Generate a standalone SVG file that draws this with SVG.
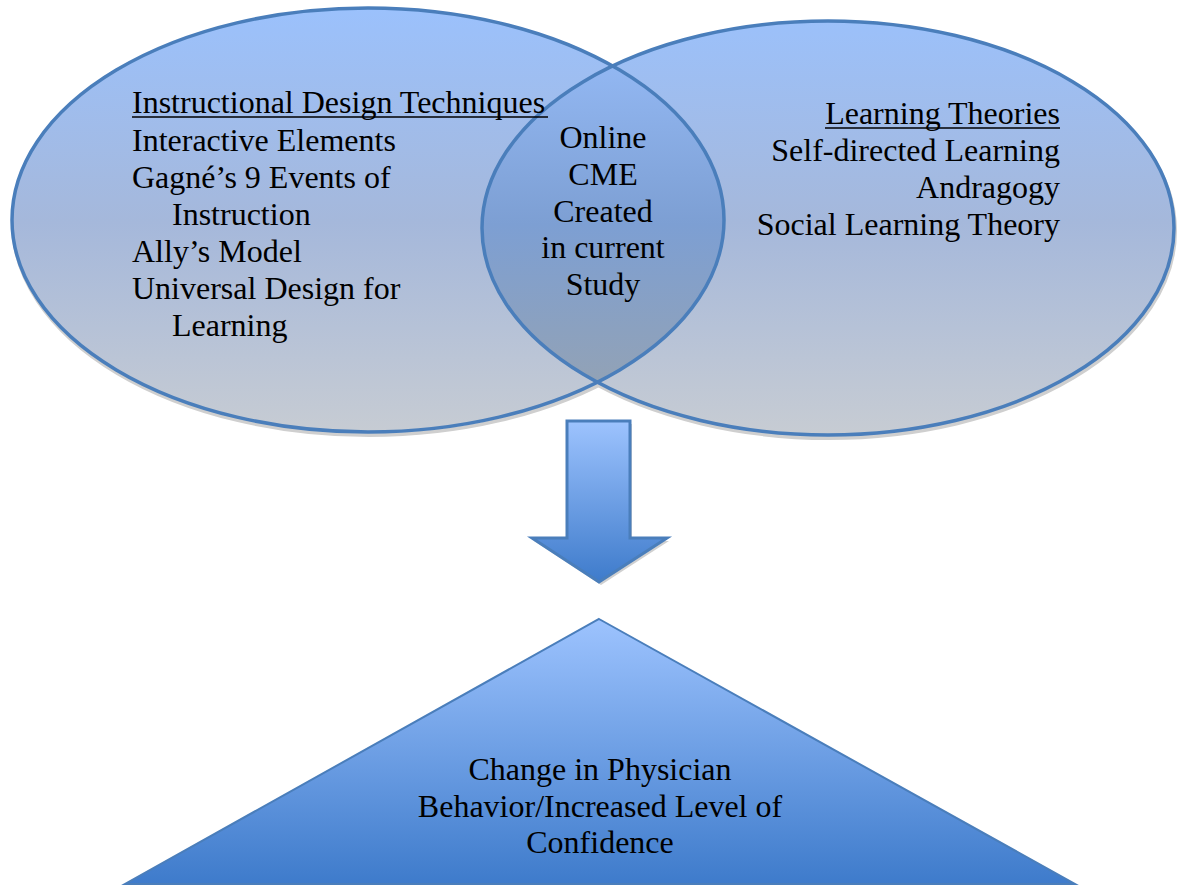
<svg xmlns="http://www.w3.org/2000/svg" width="1178" height="886" viewBox="0 0 1178 886">
  <style>
    .t { font-family: "Liberation Serif", "Times New Roman", serif; font-size: 32px; fill: #000; }
    .mid { text-anchor: middle; }
    .end { text-anchor: end; }
    .edge { fill: none; stroke: #4a7ebb; stroke-width: 3.5; }
    .shadow { fill: none; stroke: #cfcfcf; stroke-width: 4; }
  </style>
  <defs>
    <linearGradient id="gEll" x1="0" y1="8" x2="0" y2="435" gradientUnits="userSpaceOnUse">
      <stop offset="0" stop-color="#9bc1fc"/>
      <stop offset="0.5" stop-color="#a5b8db"/>
      <stop offset="1" stop-color="#c7ccd3"/>
    </linearGradient>
    <linearGradient id="gLens" x1="0" y1="66" x2="0" y2="382" gradientUnits="userSpaceOnUse">
      <stop offset="0" stop-color="#92b7f2"/>
      <stop offset="0.5" stop-color="#7d9fd3"/>
      <stop offset="1" stop-color="#92a2b6"/>
    </linearGradient>
    <linearGradient id="gBlue" x1="0" y1="0" x2="0" y2="1">
      <stop offset="0" stop-color="#9dc3fe"/>
      <stop offset="1" stop-color="#3e7bcb"/>
    </linearGradient>
    <clipPath id="clipLeft">
      <ellipse cx="368" cy="220" rx="356" ry="212"/>
    </clipPath>
  </defs>

  <g id="shadows">
    <ellipse class="shadow" cx="369" cy="223" rx="356" ry="212"/>
    <ellipse class="shadow" cx="829" cy="231" rx="346" ry="207"/>
  </g>

  <g id="node-instructional-design">
    <ellipse cx="368" cy="220" rx="356" ry="212" fill="url(#gEll)"/>
  </g>

  <g id="node-learning-theories">
    <ellipse cx="828" cy="228" rx="346" ry="207" fill="url(#gEll)"/>
  </g>

  <g id="node-online-cme">
    <ellipse cx="828" cy="228" rx="346" ry="207" fill="url(#gLens)" clip-path="url(#clipLeft)"/>
  </g>

  <g id="outlines">
    <ellipse class="edge" cx="368" cy="220" rx="356" ry="212"/>
    <ellipse class="edge" cx="828" cy="228" rx="346" ry="207"/>
  </g>

  <g id="labels-left">
    <text class="t" x="132" y="113">Instructional Design Techniques</text>
    <line x1="132" y1="117" x2="548" y2="117" stroke="#000" stroke-width="1.6"/>
    <text class="t" x="132" y="151">Interactive Elements</text>
    <text class="t" x="132" y="188">Gagné’s 9 Events of</text>
    <text class="t" x="172" y="225">Instruction</text>
    <text class="t" x="132" y="262">Ally’s Model</text>
    <text class="t" x="132" y="299">Universal Design for</text>
    <text class="t" x="172" y="336">Learning</text>
  </g>

  <g id="labels-right">
    <text class="t end" x="1060" y="124">Learning Theories</text>
    <line x1="825" y1="128" x2="1060" y2="128" stroke="#000" stroke-width="1.6"/>
    <text class="t end" x="1060" y="161">Self-directed Learning</text>
    <text class="t end" x="1060" y="198">Andragogy</text>
    <text class="t end" x="1060" y="235">Social Learning Theory</text>
  </g>

  <g id="labels-center">
    <text class="t mid" x="603" y="148">Online</text>
    <text class="t mid" x="603" y="185">CME</text>
    <text class="t mid" x="603" y="222">Created</text>
    <text class="t mid" x="603" y="258">in current</text>
    <text class="t mid" x="603" y="295">Study</text>
  </g>

  <g id="connectors">
    <path d="M569,424 H632 V541 H669 L601,585 L534,541 H569 Z" fill="#d0d0d0"/>
    <path d="M567,421 H630 V538 H667 L599,582 L532,538 H567 Z" fill="url(#gBlue)" stroke="#4a7ebb" stroke-width="3" stroke-linejoin="miter"/>
  </g>

  <g id="node-outcome">
    <path d="M599,619 L1075,884 L125,884 Z" fill="url(#gBlue)" stroke="#4a7ebb" stroke-width="2"/>
    <text class="t mid" x="600" y="780">Change in Physician</text>
    <text class="t mid" x="600" y="817">Behavior/Increased Level of</text>
    <text class="t mid" x="600" y="853">Confidence</text>
  </g>
</svg>
